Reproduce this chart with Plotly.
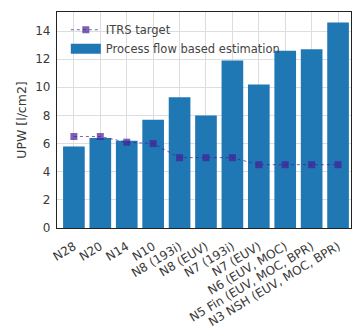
import plotly.graph_objects as go

nodes = ["N28", "N20", "N14", "N10", "N8 (193i)", "N8 (EUV)", "N7 (193i)",
         "N7 (EUV)", "N6 (EUV, MOC)", "N5 Fin (EUV, MOC, BPR)",
         "N3 NSH (EUV, MOC, BPR)"]
estimation = [5.8, 6.4, 6.2, 7.7, 9.3, 8.0, 11.9, 10.2, 12.6, 12.7, 14.6]
itrs_target = [6.5, 6.5, 6.1, 6.0, 5.0, 5.0, 5.0, 4.5, 4.5, 4.5, 4.5]

BAR_COLOR = "#1f77b4"
TARGET_COLOR = "rgba(70,30,150,0.7)"

x = list(range(len(nodes)))

fig = go.Figure()
fig.add_trace(go.Scatter(
    x=x, y=itrs_target, name="ITRS target", mode="lines+markers",
    line=dict(color=TARGET_COLOR, width=1, dash="dot"),
    marker=dict(symbol="square", size=7, color=TARGET_COLOR),
))
fig.add_trace(go.Bar(
    x=x, y=estimation, name="Process flow based estimation",
    marker=dict(color=BAR_COLOR, line=dict(width=0)), width=0.82,
    showlegend=False,
))
# wide patch-style legend key for the bars
fig.add_trace(go.Scatter(
    x=[None], y=[None], name="Process flow based estimation", mode="lines",
    line=dict(color=BAR_COLOR, width=10),
))

fig.update_layout(
    width=352, height=330,
    margin=dict(l=57, r=1, t=12, b=102),
    paper_bgcolor="white", plot_bgcolor="white",
    font=dict(family="DejaVu Sans", size=12, color="#3a3a3a"),
    showlegend=True,
    legend=dict(x=0.03, y=0.985, xanchor="left", yanchor="top",
                bgcolor="rgba(255,255,255,0)", font=dict(size=11.5, color="#444444"),
                tracegroupgap=0),
)
fig.update_xaxes(
    range=[-0.64, 10.49], tickmode="array", tickvals=x, ticktext=nodes,
    tickangle=-31, tickfont=dict(size=12, color="#3a3a3a"), ticklabelstandoff=6,
    showgrid=True, gridcolor="#dddddd", gridwidth=1,
    showline=True, linecolor="#222222", linewidth=1.2, mirror=True,
    zeroline=False, ticks="",
)
fig.update_yaxes(
    range=[0, 15.35], tickvals=[0, 2, 4, 6, 8, 10, 12, 14],
    tickfont=dict(size=12, color="#3a3a3a"), ticklabelstandoff=3,
    title=dict(text="UPW [l/cm2]", font=dict(size=12.5, color="#3a3a3a"), standoff=5),
    showgrid=True, gridcolor="#dddddd", gridwidth=1,
    showline=True, linecolor="#222222", linewidth=1.2, mirror=True,
    zeroline=False, ticks="",
)

fig.write_html("out.html")
